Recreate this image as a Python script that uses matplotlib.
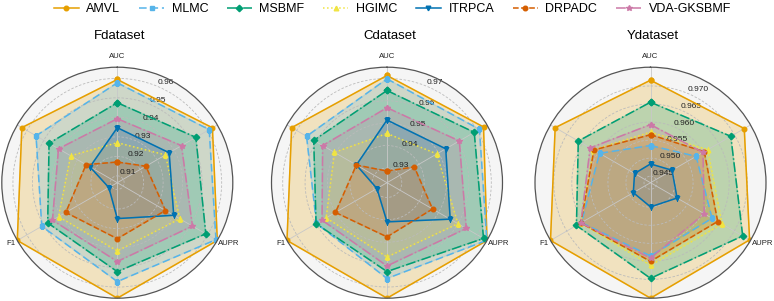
import numpy as np
import matplotlib
matplotlib.use("Agg")
import matplotlib.pyplot as plt

plt.rcParams['font.family'] = ['Liberation Sans', 'DejaVu Sans']

metrics = ['AUC', '', 'AUPR', '', 'F1', '']
methods = ['AMVL', 'MLMC', 'MSBMF', 'HGIMC', 'ITRPCA', 'DRPADC', 'VDA-GKSBMF']
datasets = ['Fdataset', 'Cdataset', 'Ydataset']

#scores per method, one value per metric axis (clockwise from top)
f_scores = {
    'AMVL':       [0.9594, 0.9628, 0.9657, 0.9657, 0.9657, 0.9630],
    'MLMC':       [0.9577, 0.9609, 0.9649, 0.9572, 0.9512, 0.9546],
    'MSBMF':      [0.9475, 0.9530, 0.9589, 0.9521, 0.9477, 0.9469],
    'HGIMC':      [0.9270, 0.9350, 0.9435, 0.9415, 0.9413, 0.9341],
    'ITRPCA':     [0.9347, 0.9372, 0.9399, 0.9249, 0.9115, 0.9227],
    'DRPADC':     [0.9171, 0.9234, 0.9350, 0.9352, 0.9370, 0.9250],
    'VDA-GKSBMF': [0.9393, 0.9445, 0.9510, 0.9469, 0.9449, 0.9413],
}
c_scores = {
    'AMVL':       [0.9713, 0.9732, 0.9750, 0.9750, 0.9750, 0.9726],
    'MLMC':       [0.9698, 0.9711, 0.9749, 0.9662, 0.9598, 0.9649],
    'MSBMF':      [0.9646, 0.9684, 0.9732, 0.9631, 0.9600, 0.9612],
    'HGIMC':      [0.9454, 0.9491, 0.9600, 0.9566, 0.9548, 0.9505],
    'ITRPCA':     [0.9514, 0.9537, 0.9560, 0.9409, 0.9286, 0.9392],
    'DRPADC':     [0.9286, 0.9375, 0.9469, 0.9476, 0.9500, 0.9392],
    'VDA-GKSBMF': [0.9569, 0.9607, 0.9643, 0.9606, 0.9569, 0.9566],
}
y_scores = {
    'AMVL':       [0.9716, 0.9732, 0.9749, 0.9752, 0.9752, 0.9737],
    'MLMC':       [0.9535, 0.9578, 0.9629, 0.9635, 0.9653, 0.9595],
    'MSBMF':      [0.9655, 0.9689, 0.9727, 0.9697, 0.9669, 0.9663],
    'HGIMC':      [0.9572, 0.9615, 0.9661, 0.9661, 0.9655, 0.9615],
    'ITRPCA':     [0.9484, 0.9501, 0.9517, 0.9499, 0.9487, 0.9483],
    'DRPADC':     [0.9565, 0.9604, 0.9647, 0.9650, 0.9655, 0.9613],
    'VDA-GKSBMF': [0.9593, 0.9600, 0.9604, 0.9641, 0.9655, 0.9625],
}
all_scores = [f_scores, c_scores, y_scores]

#radial range bottoms and tick values
r_bottom = [0.9065, 0.9234, 0.9432]
r_ticks = [[0.91, 0.92, 0.93, 0.94, 0.95, 0.96],
           [0.93, 0.94, 0.95, 0.96, 0.97],
           [0.945, 0.950, 0.955, 0.960, 0.965, 0.970]]
tick_fmt = ['%.2f', '%.2f', '%.3f']

colors = {'AMVL': '#E69F00', 'MLMC': '#56B4E9', 'MSBMF': '#009E73', 'HGIMC': '#F0E442',
          'ITRPCA': '#0072B2', 'DRPADC': '#D55E00', 'VDA-GKSBMF': '#CC79A7'}
styles = {'AMVL': ('-', 'o'), 'MLMC': ((0, (5, 2.5)), 's'), 'MSBMF': ('-.', 'D'),
          'HGIMC': (':', '^'), 'ITRPCA': ('-', 'v'), 'DRPADC': ('--', 'o'),
          'VDA-GKSBMF': ('-.', '*')}

#axes boxes in pixels: centre x, centre y (from top), radius
centres = [117.3, 387.0, 650.5]
cy = 182.7
rad = 115.5
W, H = 774, 301


def radar(ax, scores, bottom, ticks, fmt):
    n = len(metrics)
    angles = np.linspace(0, 2 * np.pi, n, endpoint=False)
    closed = np.concatenate([angles, angles[:1]])
    ax.set_theta_zero_location('N')
    ax.set_theta_direction(-1)
    ax.set_facecolor('#F5F5F5')

    for m in methods:
        vals = np.array(scores[m] + scores[m][:1])
        ls, mk = styles[m]
        ax.plot(closed, vals, color=colors[m], linestyle=ls, marker=mk,
                linewidth=1.1, markersize=3.3 if mk != '*' else 4.3, label=m)
        ax.fill(closed, vals, color=colors[m], alpha=0.22)

    top = max(max(v) for v in scores.values())
    ax.set_ylim(bottom, top)
    ax.set_yticks(ticks)
    ax.set_yticklabels([fmt % t for t in ticks], fontsize=6, color='#222222')
    ax.set_rlabel_position(22.5)
    ax.set_xticks(angles)
    ax.set_xticklabels([])
    ax.yaxis.grid(True, color='#BBBBBB', linestyle=(0, (3, 2)), linewidth=0.6)
    ax.xaxis.grid(True, color='#C8C8C8', linestyle='-', linewidth=0.6)
    ax.spines['polar'].set_color('#555555')
    ax.spines['polar'].set_linewidth(0.9)

    #metric names placed just outside the circle
    px = 1 / (2 * rad)
    for lab, a in zip(metrics, angles):
        if not lab:
            continue
        x = 0.5 + 0.5 * np.sin(a)
        y = 0.5 + 0.5 * np.cos(a)
        if np.isclose(a, 0):
            ax.text(0.5, 1 + 11 * px, lab, transform=ax.transAxes, ha='center',
                    va='center', fontsize=5.6, color='#222222', clip_on=False)
        elif np.sin(a) > 0:
            ax.text(x + 1 * px, y - 2.8 * px, lab, transform=ax.transAxes, ha='left',
                    va='center', fontsize=5.6, color='#222222', clip_on=False)
        else:
            ax.text(x - 1.5 * px, y - 2.8 * px, lab, transform=ax.transAxes, ha='right',
                    va='center', fontsize=5.6, color='#222222', clip_on=False)


def main():
    fig = plt.figure(figsize=(W / 100, H / 100), dpi=100)
    for i, name in enumerate(datasets):
        box = [(centres[i] - rad) / W, (H - cy - rad) / H, 2 * rad / W, 2 * rad / H]
        ax = fig.add_axes(box, projection='polar')
        radar(ax, all_scores[i], r_bottom[i], r_ticks[i], tick_fmt[i])
        fig.text(centres[i] / W + 0.003, 1 - 36 / H, name, ha='center', va='center', fontsize=9.5)
        if i == 0:
            handles, labels = ax.get_legend_handles_labels()

    fig.legend(handles, labels, loc='center', bbox_to_anchor=(0.507, 1 - 9 / H), ncol=7,
               frameon=False, fontsize=9, handlelength=2.0, handletextpad=0.6,
               columnspacing=1.5)
    fig.savefig('out.png', dpi=100)


main()
